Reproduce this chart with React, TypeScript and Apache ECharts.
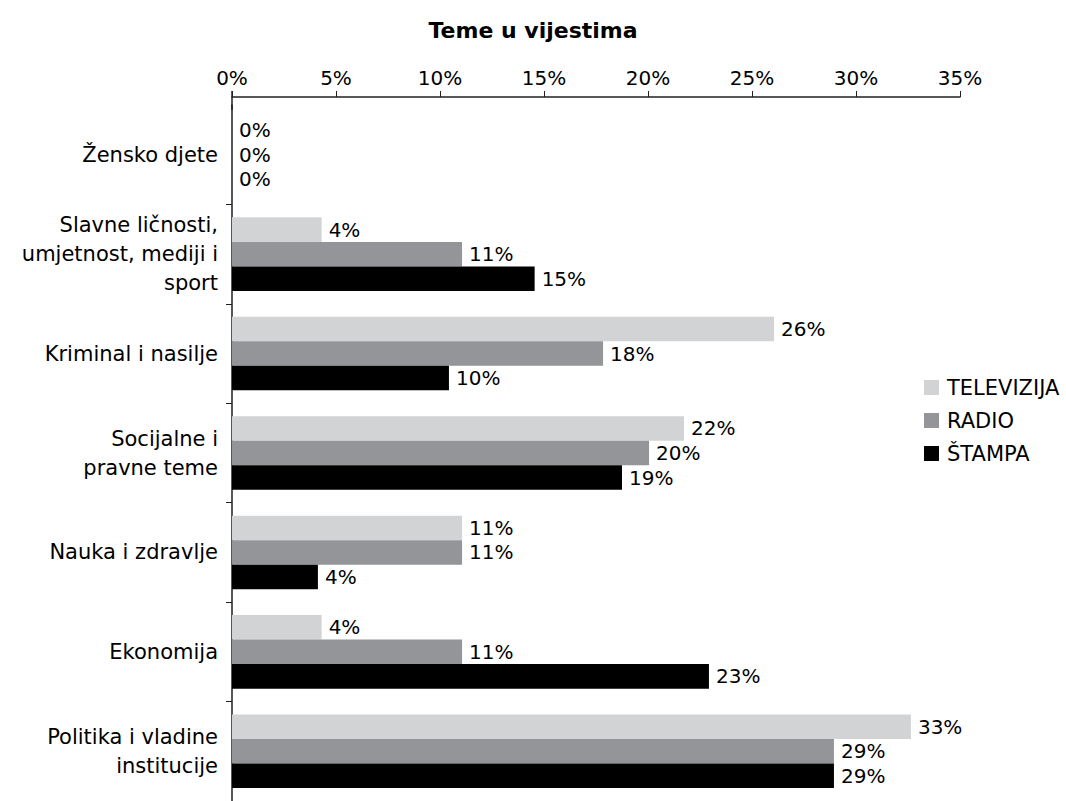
import React, { useEffect, useRef } from "react";
import * as echarts from "echarts";

const categories = [
  "Žensko djete",
  "Slavne ličnosti,\numjetnost, mediji i\nsport",
  "Kriminal i nasilje",
  "Socijalne i\npravne teme",
  "Nauka i zdravlje",
  "Ekonomija",
  "Politika i vladine\ninstitucije",
];
const seriesNames = ["TELEVIZIJA", "RADIO", "ŠTAMPA"];
const televizija = [0, 4.31, 26.06, 21.73, 11.06, 4.31, 32.64];
const radio = [0, 11.06, 17.84, 20.05, 11.06, 11.06, 28.94];
const stampa = [0, 14.55, 10.43, 18.75, 4.13, 22.93, 28.94];
const colors = ["#d1d3d4", "#939598", "#000000"];
const xTicks = { min: 0, max: 35, interval: 5 };

const FONT = "'DejaVu Sans', 'Noto Sans', sans-serif";

export default function App() {
  const ref = useRef<HTMLDivElement>(null);
  useEffect(() => {
    if (!ref.current) return;
    const chart = echarts.init(ref.current, undefined, { renderer: "svg" });
    const values = [televizija, radio, stampa];
    chart.setOption({
      animation: false,
      backgroundColor: "#ffffff",
      textStyle: { fontFamily: FONT },
      title: {
        text: "Teme u vijestima",
        left: "center",
        top: 14,
        textStyle: { fontFamily: FONT, fontSize: 22, fontWeight: "bold", color: "#000" },
      },
      legend: {
        orient: "vertical",
        left: 919,
        top: 372,
        itemWidth: 15,
        itemHeight: 15,
        itemGap: 12,
        icon: "rect",
        textStyle: { fontFamily: FONT, fontSize: 21, color: "#000", padding: [0, 0, 0, 3] },
        data: seriesNames,
      },
      grid: { left: 232, top: 105, width: 728, height: 704, containLabel: false },
      graphic: [
        {
          type: "rect",
          z: 100,
          shape: { x: 222, y: 101, width: 9, height: 8 },
          style: { fill: "#ffffff" },
        },
        {
          type: "line",
          z: 101,
          shape: { x1: 232, y1: 91, x2: 232, y2: 110 },
          style: { stroke: "#231f20", lineWidth: 1.5 },
        },
      ],
      xAxis: {
        type: "value",
        position: "top",
        offset: 8,
        min: xTicks.min,
        max: xTicks.max,
        interval: xTicks.interval,
        axisLine: { show: true, lineStyle: { color: "#231f20", width: 1.5 } },
        axisTick: { show: true, length: 6, lineStyle: { color: "#231f20" } },
        splitLine: { show: false },
        axisLabel: {
          formatter: (v: number) => v + "%",
          fontFamily: FONT,
          fontSize: 20,
          color: "#000",
          margin: 9,
        },
      },
      yAxis: {
        type: "category",
        inverse: true,
        data: categories,
        axisLine: { show: true, lineStyle: { color: "#231f20", width: 1.5 } },
        axisTick: { show: true, length: 6, lineStyle: { color: "#231f20" } },
        axisLabel: {
          fontFamily: FONT,
          fontSize: 21,
          color: "#000",
          margin: 14,
          lineHeight: 29,
          align: "right",
        },
      },
      series: seriesNames.map((name, i) => ({
        name,
        type: "bar",
        data: values[i],
        barGap: "0%",
        barCategoryGap: "26%",
        itemStyle: { color: colors[i] },
        label: {
          show: true,
          position: "right",
          distance: 7,
          formatter: (p: any) => Math.round(p.value) + "%",
          fontFamily: FONT,
          fontSize: 20,
          color: "#000",
        },
      })),
    });
    return () => chart.dispose();
  }, []);
  return (
    <div
      ref={ref}
      style={{ position: "fixed", left: 0, top: 0, width: 1066, height: 801 }}
    />
  );
}
